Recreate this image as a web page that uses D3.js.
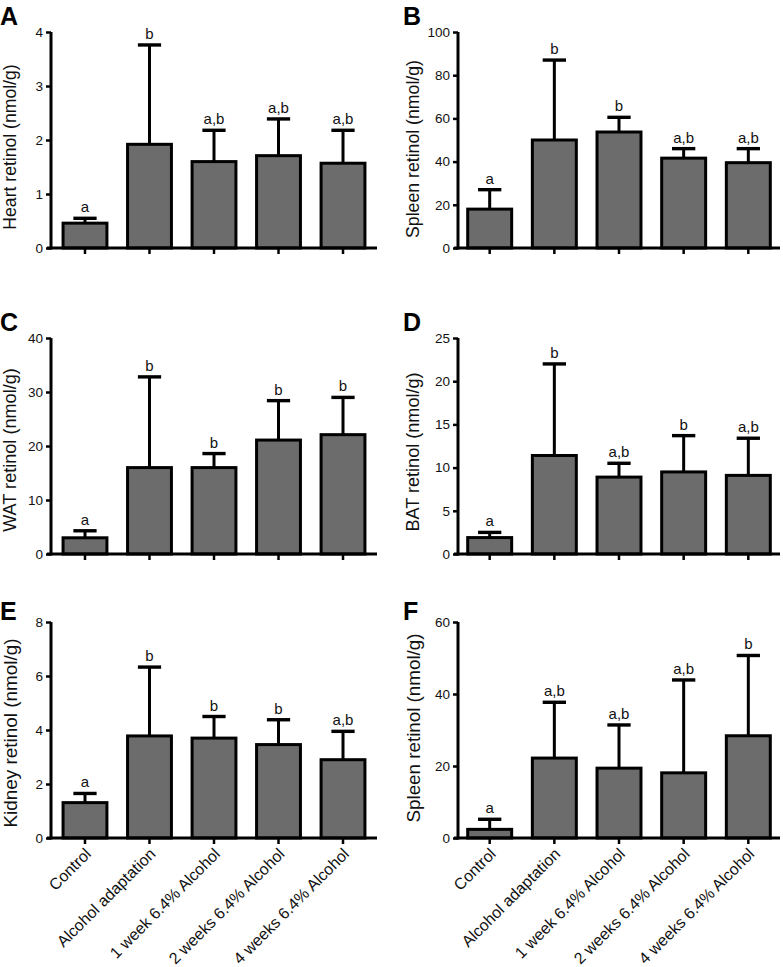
<!DOCTYPE html>
<html><head><meta charset="utf-8">
<script src="https://cdn.jsdelivr.net/npm/d3@7"></script>
<style>body{margin:0;background:#fff}svg{display:block}text{font-family:"Liberation Sans",Arial,sans-serif}</style>
</head><body><svg id="c" width="783" height="967"></svg>
<script>
const categories = ["Control","Alcohol adaptation","1 week 6.4% Alcohol","2 weeks 6.4% Alcohol","4 weeks 6.4% Alcohol"];

const heartMean = [0.46, 1.92, 1.60, 1.71, 1.57];
const heartSD   = [0.09, 1.84, 0.58, 0.68, 0.61];
const heartSig  = ["a","b","a,b","a,b","a,b"];
const heartTicks = [0,1,2,3,4];

const spleenMean = [18, 50, 53.7, 41.6, 39.5];
const spleenSD   = [9, 37, 6.8, 4.4, 6.5];
const spleenSig  = ["a","b","b","a,b","a,b"];
const spleenTicks = [0,20,40,60,80,100];

const watMean = [3.0, 16.0, 16.0, 21.1, 22.1];
const watSD   = [1.3, 16.8, 2.6, 7.3, 6.9];
const watSig  = ["a","b","b","b","b"];
const watTicks = [0,10,20,30,40];

const batMean = [1.9, 11.4, 8.9, 9.5, 9.1];
const batSD   = [0.6, 10.6, 1.6, 4.2, 4.3];
const batSig  = ["a","b","a,b","b","a,b"];
const batTicks = [0,5,10,15,20,25];

const kidneyMean = [1.31, 3.78, 3.70, 3.46, 2.90];
const kidneySD   = [0.34, 2.55, 0.80, 0.92, 1.05];
const kidneySig  = ["a","b","b","b","a,b"];
const kidneyTicks = [0,2,4,6,8];

const spleen2Mean = [2.4, 22.2, 19.4, 18.1, 28.4];
const spleen2SD   = [2.8, 15.5, 12.0, 25.8, 22.3];
const spleen2Sig  = ["a","a,b","a,b","a,b","b"];
const spleen2Ticks = [0,20,40,60];

const panels = [
  {letter:"A", label:"Heart retinol (nmol/g)", mean:heartMean, sd:heartSD, sig:heartSig, ticks:heartTicks, col:0, row:0, labelY:147, labelSize:17.6},
  {letter:"B", label:"Spleen retinol (nmol/g)", mean:spleenMean, sd:spleenSD, sig:spleenSig, ticks:spleenTicks, col:1, row:0, labelY:149, labelSize:17.7},
  {letter:"C", label:"WAT retinol (nmol/g)", mean:watMean, sd:watSD, sig:watSig, ticks:watTicks, col:0, row:1, labelY:450, labelSize:18.1},
  {letter:"D", label:"BAT retinol (nmol/g)", mean:batMean, sd:batSD, sig:batSig, ticks:batTicks, col:1, row:1, labelY:452, labelSize:18.1},
  {letter:"E", label:"Kidney retinol (nmol/g)", mean:kidneyMean, sd:kidneySD, sig:kidneySig, ticks:kidneyTicks, col:0, row:2, labelY:733, labelSize:18.9},
  {letter:"F", label:"Spleen retinol (nmol/g)", mean:spleen2Mean, sd:spleen2SD, sig:spleen2Sig, ticks:spleen2Ticks, col:1, row:2, labelY:728, labelSize:18.8}
];

const colLayout = [{x0:51, x1:377, labelX:16, letterX:0, po:0.187},{x0:458, x1:780, labelX:419, letterX:403, po:0.15}];
const rowLayout = [{top:32, bottom:248, letterY:25},{top:338, bottom:554, letterY:331},{top:622, bottom:838, letterY:620}];

const svg = d3.select("#c");
const FILL = "#6c6c6c";

panels.forEach(p => {
  const c = colLayout[p.col], r = rowLayout[p.row];
  const g = svg.append("g");
  const x = d3.scaleBand().domain(categories).range([c.x0, c.x1]).paddingInner(0.32).paddingOuter(c.po);
  const y = d3.scaleLinear().domain([0, p.ticks[p.ticks.length-1]]).range([r.bottom, r.top]);

  const bw = x.bandwidth();
  const capW = bw * 0.53;
  categories.forEach((cat, i) => {
    const cx = x(cat) + bw/2;
    const top = p.mean[i] + p.sd[i];
    g.append("line").attr("x1", cx).attr("x2", cx).attr("y1", y(p.mean[i])).attr("y2", y(top))
      .attr("stroke","#000").attr("stroke-width",3);
    g.append("line").attr("x1", cx-capW/2).attr("x2", cx+capW/2).attr("y1", y(top)).attr("y2", y(top))
      .attr("stroke","#000").attr("stroke-width",3.4);
    g.append("rect").attr("x", x(cat)).attr("width", bw).attr("y", y(p.mean[i])).attr("height", y(0)-y(p.mean[i]))
      .attr("fill", FILL).attr("stroke","#000").attr("stroke-width",3);
    g.append("text").attr("x", cx).attr("y", y(top)-6).attr("text-anchor","middle")
      .attr("font-size",15).attr("fill","#111").text(p.sig[i]);
  });

  const ya = g.append("g").attr("transform",`translate(${c.x0},0)`)
    .call(d3.axisLeft(y).tickValues(p.ticks).tickSize(5).tickSizeOuter(0).tickFormat(d3.format("d")));
  ya.select(".domain").attr("stroke-width",3).attr("d", `M0,${r.bottom+1.5}V${r.top}`);
  ya.selectAll(".tick line").attr("stroke-width",2.5);
  ya.selectAll(".tick text").attr("font-size",13.5).attr("font-family","Liberation Sans, Arial, sans-serif").attr("fill","#111").attr("x",-8);

  const xa = g.append("g").attr("transform",`translate(0,${r.bottom})`)
    .call(d3.axisBottom(x).tickSize(6).tickSizeOuter(0));
  xa.select(".domain").attr("stroke-width",3).attr("d", `M${c.x0-4},0H${c.x1}`);
  xa.selectAll(".tick line").attr("stroke-width",2.5);
  if (p.row === 2) {
    xa.selectAll(".tick text").attr("font-size",16).attr("font-family","Liberation Sans, Arial, sans-serif")
      .attr("fill","#111").attr("text-anchor","end").attr("dy",0).attr("y",0)
      .attr("transform","translate(7,17) rotate(-45)");
  } else {
    xa.selectAll(".tick text").remove();
  }

  g.append("text").attr("transform",`translate(${c.labelX + (p.labelSize-17.5)*0.7},${p.labelY}) rotate(-90)`)
    .attr("text-anchor","middle").attr("font-size",p.labelSize).attr("fill","#111").text(p.label);

  g.append("text").attr("x", c.letterX).attr("y", r.letterY).attr("font-size",25).attr("font-weight","bold")
    .attr("fill","#000").text(p.letter);
});
</script></body></html>
